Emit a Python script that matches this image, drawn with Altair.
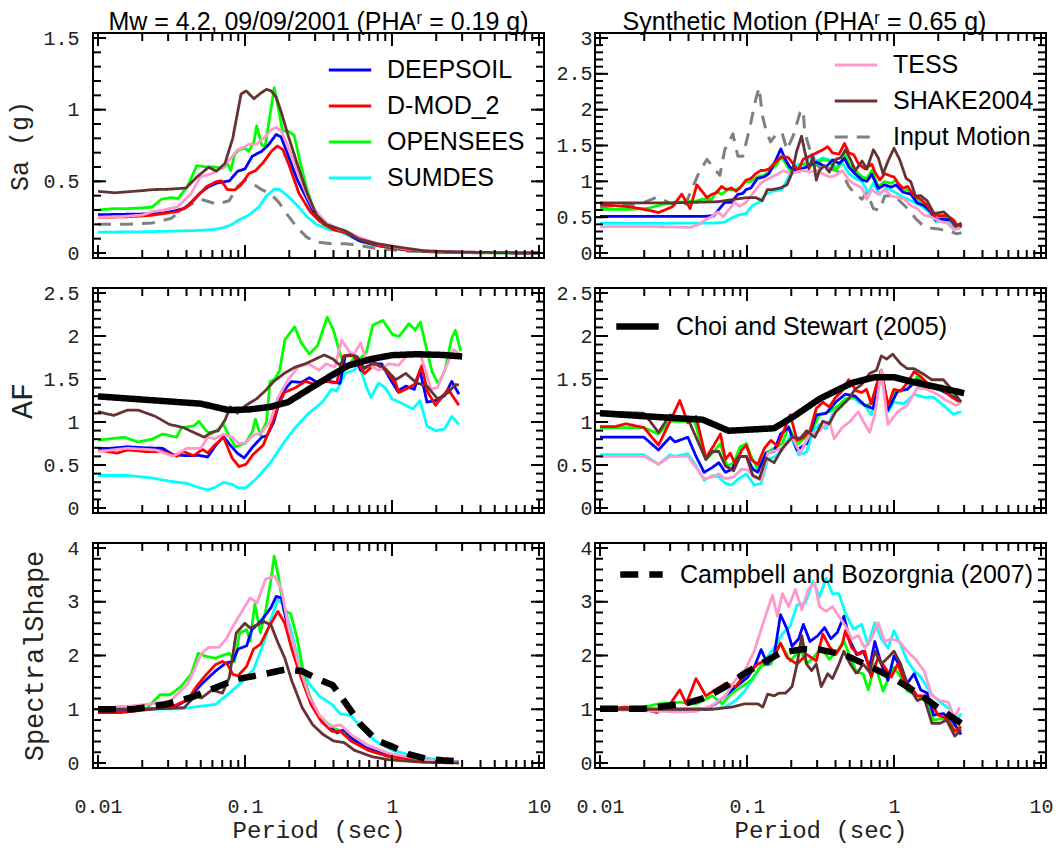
import altair as alt
import pandas as pd

SERIES = ["Input Motion", "SUMDES", "OPENSEES", "DEEPSOIL", "D-MOD_2", "TESS",
          "SHAKE2004", "Choi and Stewart (2005)", "Campbell and Bozorgnia (2007)"]
COLORS = ["#808080", "#00ffff", "#00ff00", "#0000ff", "#ff0000", "#ff99cc",
          "#663333", "#000000", "#000000"]
DASHES = [[13, 9], [1, 0], [1, 0], [1, 0], [1, 0], [1, 0], [1, 0], [1, 0], [18, 11]]
WIDTHS = [3, 2.8, 2.8, 2.8, 2.8, 2.8, 2.8, 6.5, 6.5]

SA_EQ = {
    "DEEPSOIL": ([0.01, 0.015, 0.02, 0.0233, 0.028, 0.032, 0.0386, 0.045, 0.0497, 0.056, 0.064, 0.0784, 0.089, 0.1, 0.112, 0.13, 0.144, 0.163, 0.176, 0.195, 0.227, 0.264, 0.292, 0.358, 0.416, 0.485, 0.594, 0.8, 1.2, 1.7, 2.5, 4, 6, 10],
                 [0.267, 0.27, 0.272, 0.275, 0.28, 0.29, 0.31, 0.37, 0.42, 0.46, 0.487, 0.504, 0.57, 0.587, 0.675, 0.71, 0.753, 0.827, 0.81, 0.69, 0.51, 0.376, 0.287, 0.198, 0.164, 0.142, 0.087, 0.053, 0.024, 0.012, 0.006, 0.003, 0.002, 0.001]),
    "D-MOD_2": ([0.01, 0.015, 0.02, 0.0233, 0.03, 0.035, 0.04, 0.045, 0.05, 0.055, 0.064, 0.069, 0.076, 0.085, 0.094, 0.106, 0.118, 0.133, 0.151, 0.166, 0.181, 0.2, 0.232, 0.278, 0.323, 0.396, 0.485, 0.594, 0.8, 1.2, 1.7, 2.5, 4, 10],
                [0.25, 0.252, 0.258, 0.264, 0.28, 0.29, 0.32, 0.375, 0.42, 0.464, 0.498, 0.504, 0.442, 0.44, 0.475, 0.553, 0.575, 0.631, 0.709, 0.747, 0.72, 0.61, 0.42, 0.287, 0.22, 0.164, 0.142, 0.098, 0.053, 0.024, 0.012, 0.006, 0.003, 0.001]),
    "TESS": ([0.01, 0.015, 0.02, 0.0233, 0.028, 0.035, 0.0427, 0.0497, 0.059, 0.071, 0.08, 0.089, 0.1, 0.106, 0.12, 0.137, 0.151, 0.163, 0.176, 0.195, 0.227, 0.264, 0.292, 0.358, 0.44, 0.485, 0.594, 0.8, 1.2, 1.7, 2.5, 4, 10],
             [0.25, 0.255, 0.265, 0.287, 0.3, 0.324, 0.41, 0.53, 0.553, 0.6, 0.66, 0.72, 0.74, 0.76, 0.76, 0.81, 0.86, 0.876, 0.853, 0.75, 0.575, 0.4, 0.31, 0.21, 0.164, 0.153, 0.11, 0.064, 0.03, 0.015, 0.008, 0.004, 0.001]),
    "OPENSEES": ([0.01, 0.013, 0.016, 0.02, 0.0233, 0.027, 0.0315, 0.035, 0.0406, 0.047, 0.055, 0.0625, 0.07, 0.0765, 0.08, 0.085, 0.091, 0.1, 0.106, 0.115, 0.12, 0.13, 0.137, 0.148, 0.158, 0.167, 0.18, 0.2, 0.216, 0.239, 0.264, 0.292, 0.34, 0.4, 0.485, 0.594, 0.8, 1.2, 1.7, 2.5, 4, 10],
                 [0.30, 0.31, 0.31, 0.315, 0.32, 0.375, 0.387, 0.38, 0.464, 0.61, 0.6, 0.6, 0.59, 0.62, 0.575, 0.687, 0.72, 0.73, 0.71, 0.776, 0.887, 0.753, 0.742, 0.964, 1.153, 1.03, 0.853, 0.847, 0.82, 0.62, 0.442, 0.31, 0.2, 0.165, 0.14, 0.09, 0.05, 0.022, 0.011, 0.005, 0.002, 0.001]),
    "SUMDES": ([0.01, 0.02, 0.03, 0.0386, 0.05, 0.061, 0.07, 0.08, 0.091, 0.106, 0.124, 0.14, 0.159, 0.172, 0.195, 0.227, 0.264, 0.307, 0.37, 0.44, 0.51, 0.625, 0.89, 1.3, 2, 3, 5, 10],
               [0.145, 0.148, 0.152, 0.155, 0.158, 0.164, 0.175, 0.195, 0.231, 0.264, 0.32, 0.398, 0.447, 0.442, 0.398, 0.331, 0.253, 0.198, 0.164, 0.153, 0.12, 0.076, 0.042, 0.02, 0.008, 0.004, 0.002, 0.001]),
    "SHAKE2004": ([0.01, 0.013, 0.02, 0.0233, 0.03, 0.0397, 0.047, 0.0565, 0.064, 0.073, 0.0825, 0.094, 0.102, 0.115, 0.127, 0.14, 0.151, 0.163, 0.176, 0.195, 0.227, 0.264, 0.307, 0.358, 0.416, 0.485, 0.594, 0.8, 1.09, 1.66, 2.8, 5, 10],
                  [0.43, 0.42, 0.435, 0.442, 0.445, 0.453, 0.53, 0.598, 0.571, 0.624, 0.8, 1.109, 1.131, 1.076, 1.113, 1.142, 1.131, 1.087, 0.987, 0.831, 0.62, 0.42, 0.264, 0.198, 0.176, 0.153, 0.098, 0.064, 0.042, 0.015, 0.007, 0.003, 0.0]),
    "Input Motion": ([0.01, 0.016, 0.0233, 0.0315, 0.038, 0.05, 0.064, 0.078, 0.089, 0.1, 0.112, 0.13, 0.151, 0.17, 0.195, 0.227, 0.264, 0.307, 0.396, 0.485, 0.594, 0.8, 1.2, 2, 3, 5, 10],
                     [0.2, 0.2, 0.209, 0.242, 0.31, 0.375, 0.342, 0.364, 0.464, 0.509, 0.487, 0.442, 0.409, 0.353, 0.264, 0.176, 0.109, 0.076, 0.064, 0.064, 0.053, 0.031, 0.015, 0.006, 0.003, 0.001, 0.0]),
}

SA_SYN = {
    "DEEPSOIL": ([0.01, 0.02, 0.03, 0.04, 0.05, 0.0596, 0.0637, 0.0706, 0.0782, 0.0866, 0.0936, 0.0985, 0.1063, 0.1178, 0.1305, 0.141, 0.156, 0.170, 0.182, 0.196, 0.2176, 0.254, 0.296, 0.345, 0.382, 0.423, 0.461, 0.493, 0.547, 0.606, 0.654, 0.706, 0.781, 0.865, 0.959, 1.036, 1.148, 1.30, 1.44, 1.60, 1.77, 1.92, 2.18, 2.42, 2.68, 2.88],
                 [0.51, 0.51, 0.51, 0.51, 0.51, 0.52, 0.596, 0.707, 0.707, 0.818, 0.831, 0.884, 0.907, 1.04, 1.062, 1.107, 1.284, 1.453, 1.307, 1.196, 1.151, 1.2, 1.27, 1.2, 1.3, 1.25, 1.32, 1.2, 1.1, 1.02, 1.0, 1.1, 0.9, 0.95, 0.92, 0.95, 0.85, 0.82, 0.7, 0.66, 0.58, 0.46, 0.47, 0.46, 0.36, 0.4]),
    "D-MOD_2": ([0.01, 0.016, 0.021, 0.025, 0.031, 0.036, 0.041, 0.0456, 0.0494, 0.0534, 0.0576, 0.062, 0.0671, 0.0724, 0.0782, 0.0845, 0.0912, 0.0985, 0.1063, 0.1148, 0.124, 0.1305, 0.141, 0.152, 0.164, 0.177, 0.1914, 0.2068, 0.223, 0.241, 0.267, 0.296, 0.328, 0.354, 0.382, 0.423, 0.461, 0.493, 0.532, 0.575, 0.637, 0.706, 0.742, 0.801, 0.865, 0.959, 1.0, 1.063, 1.148, 1.24, 1.37, 1.52, 1.68, 1.87, 2.07, 2.30, 2.54, 2.75, 2.88],
                [0.676, 0.644, 0.6, 0.564, 0.644, 0.822, 0.62, 0.951, 0.862, 0.773, 0.818, 0.84, 0.929, 0.884, 0.907, 0.862, 0.929, 1.018, 1.04, 1.107, 1.151, 1.151, 1.173, 1.24, 1.307, 1.351, 1.329, 1.24, 1.151, 1.307, 1.351, 1.396, 1.44, 1.484, 1.396, 1.38, 1.529, 1.396, 1.373, 1.24, 1.173, 1.24, 1.129, 1.018, 1.107, 1.07, 1.062, 0.973, 0.907, 0.929, 0.796, 0.751, 0.662, 0.529, 0.52, 0.52, 0.462, 0.351, 0.396]),
    "OPENSEES": ([0.01, 0.016, 0.021, 0.027, 0.035, 0.045, 0.0494, 0.0576, 0.062, 0.0671, 0.0743, 0.0823, 0.0889, 0.0985, 0.1063, 0.1178, 0.1305, 0.1446, 0.16, 0.170, 0.182, 0.196, 0.2176, 0.241, 0.267, 0.296, 0.328, 0.363, 0.402, 0.434, 0.461, 0.493, 0.547, 0.606, 0.654, 0.706, 0.781, 0.865, 0.959, 1.036, 1.148, 1.24, 1.40, 1.55, 1.72, 1.92, 2.18, 2.42, 2.68, 2.88],
                 [0.609, 0.609, 0.622, 0.68, 0.711, 0.724, 0.75, 0.75, 0.862, 0.818, 0.884, 0.88, 0.907, 0.996, 0.996, 1.062, 1.084, 1.151, 1.24, 1.351, 1.262, 1.151, 1.173, 1.24, 1.218, 1.24, 1.307, 1.284, 1.151, 1.25, 1.373, 1.24, 1.151, 1.062, 1.04, 1.151, 0.929, 0.996, 0.973, 1.018, 0.884, 0.884, 0.773, 0.707, 0.662, 0.484, 0.507, 0.484, 0.351, 0.396]),
    "SUMDES": ([0.01, 0.02, 0.03, 0.04, 0.05, 0.06, 0.071, 0.0743, 0.0866, 0.0985, 0.109, 0.121, 0.134, 0.148, 0.16, 0.1728, 0.187, 0.2016, 0.223, 0.247, 0.274, 0.296, 0.328, 0.363, 0.402, 0.445, 0.493, 0.547, 0.606, 0.67, 0.724, 0.801, 0.888, 0.984, 1.119, 1.24, 1.37, 1.52, 1.72, 1.92, 2.3, 2.68, 2.88],
               [0.413, 0.413, 0.415, 0.418, 0.418, 0.418, 0.43, 0.462, 0.529, 0.551, 0.662, 0.707, 0.818, 0.862, 0.87, 0.884, 1.018, 1.151, 1.24, 1.24, 1.373, 1.284, 1.329, 1.3, 1.196, 1.262, 1.107, 1.04, 0.996, 0.84, 0.973, 0.818, 0.907, 0.862, 0.796, 0.751, 0.707, 0.662, 0.573, 0.44, 0.44, 0.329, 0.373]),
    "TESS": ([0.01, 0.02, 0.03, 0.041, 0.047, 0.052, 0.0576, 0.0637, 0.0689, 0.0762, 0.0823, 0.0889, 0.0985, 0.1063, 0.1148, 0.124, 0.134, 0.148, 0.164, 0.177, 0.196, 0.2176, 0.241, 0.267, 0.296, 0.328, 0.363, 0.402, 0.445, 0.493, 0.547, 0.606, 0.654, 0.706, 0.781, 0.865, 0.959, 1.063, 1.18, 1.30, 1.44, 1.60, 1.77, 2.07, 2.30, 2.54, 2.8],
             [0.369, 0.369, 0.365, 0.356, 0.396, 0.462, 0.507, 0.573, 0.507, 0.618, 0.707, 0.65, 0.707, 0.796, 0.884, 0.973, 1.018, 1.062, 1.107, 1.151, 1.107, 1.129, 1.151, 1.129, 1.151, 1.107, 1.062, 1.08, 1.151, 1.018, 0.951, 0.907, 0.751, 0.884, 0.818, 0.884, 0.796, 0.773, 0.751, 0.662, 0.618, 0.529, 0.507, 0.44, 0.418, 0.329, 0.351]),
    "SHAKE2004": ([0.01, 0.02, 0.03, 0.04, 0.05, 0.064, 0.0823, 0.101, 0.1148, 0.127, 0.1374, 0.148, 0.1684, 0.187, 0.2016, 0.2176, 0.235, 0.247, 0.264, 0.281, 0.296, 0.311, 0.336, 0.363, 0.402, 0.434, 0.468, 0.505, 0.547, 0.606, 0.654, 0.724, 0.781, 0.843, 0.911, 1.0, 1.091, 1.21, 1.30, 1.40, 1.52, 1.68, 1.87, 2.18, 2.36, 2.61, 2.88],
                  [0.698, 0.70, 0.70, 0.705, 0.71, 0.716, 0.751, 0.773, 0.773, 0.729, 0.884, 0.884, 0.907, 0.951, 1.107, 1.418, 1.631, 1.418, 1.173, 1.351, 1.018, 1.151, 1.218, 1.129, 1.307, 1.329, 1.44, 1.307, 1.151, 1.284, 1.173, 1.44, 1.329, 1.107, 1.284, 1.462, 1.307, 1.04, 0.996, 0.796, 0.8, 0.729, 0.551, 0.573, 0.507, 0.373, 0.418]),
    "Input Motion": ([0.01, 0.0146, 0.019, 0.0244, 0.029, 0.035, 0.0382, 0.0468, 0.0534, 0.0587, 0.0654, 0.0706, 0.0802, 0.0866, 0.0936, 0.104, 0.1148, 0.121, 0.127, 0.134, 0.1446, 0.156, 0.1728, 0.187, 0.2068, 0.229, 0.241, 0.247, 0.274, 0.296, 0.328, 0.363, 0.402, 0.445, 0.493, 0.547, 0.606, 0.654, 0.724, 0.801, 0.865, 0.984, 1.063, 1.24, 1.40, 1.55, 1.72, 2.07, 2.42, 2.68, 2.88],
                     [0.644, 0.667, 0.689, 0.778, 0.711, 0.644, 0.684, 1.107, 1.307, 1.2, 1.084, 1.44, 1.662, 1.351, 1.35, 1.729, 2.151, 2.307, 1.929, 1.729, 1.551, 1.64, 1.684, 1.44, 1.64, 1.951, 1.996, 1.684, 1.373, 1.24, 1.151, 1.18, 1.15, 1.107, 0.929, 0.818, 0.751, 0.85, 0.618, 0.6, 0.796, 0.8, 0.751, 0.618, 0.484, 0.396, 0.351, 0.33, 0.3, 0.267, 0.284]),
}

AF_EQ = {
    "Choi and Stewart (2005)": ([0.01, 0.05, 0.0774, 0.107, 0.149, 0.196, 0.271, 0.376, 0.508, 0.72, 1.0, 1.47, 2.2, 3.0],
                                [1.298, 1.213, 1.139, 1.146, 1.176, 1.231, 1.38, 1.528, 1.658, 1.732, 1.777, 1.788, 1.78, 1.762]),
    "DEEPSOIL": ([0.01, 0.0121, 0.0159, 0.0209, 0.0275, 0.0324, 0.0402, 0.0486, 0.0558, 0.0622, 0.0714, 0.0795, 0.0886, 0.0988, 0.113, 0.13, 0.1411, 0.157, 0.177, 0.207, 0.241, 0.274, 0.311, 0.363, 0.443, 0.481, 0.55, 0.612, 0.72, 0.85, 0.95, 1.09, 1.24, 1.42, 1.55, 1.73, 1.98, 2.28, 2.55, 2.85],
                 [0.694, 0.694, 0.712, 0.7, 0.694, 0.619, 0.608, 0.612, 0.593, 0.712, 0.831, 0.73, 0.638, 0.582, 0.712, 0.823, 0.842, 1.0, 1.33, 1.47, 1.46, 1.515, 1.459, 1.478, 1.45, 1.77, 1.788, 1.6, 1.677, 1.677, 1.528, 1.361, 1.417, 1.38, 1.6, 1.231, 1.25, 1.306, 1.472, 1.324]),
    "D-MOD_2": ([0.01, 0.0135, 0.0159, 0.0209, 0.0275, 0.0342, 0.0381, 0.0448, 0.0514, 0.0558, 0.0622, 0.0714, 0.0817, 0.091, 0.1015, 0.113, 0.133, 0.149, 0.166, 0.185, 0.22, 0.257, 0.302, 0.356, 0.42, 0.468, 0.55, 0.65, 0.77, 0.9, 1.06, 1.11, 1.24, 1.42, 1.60, 1.73, 1.98, 2.41, 2.85],
                [0.675, 0.638, 0.675, 0.657, 0.657, 0.601, 0.657, 0.608, 0.682, 0.64, 0.731, 0.823, 0.582, 0.482, 0.508, 0.619, 0.731, 0.935, 1.157, 1.343, 1.398, 1.472, 1.435, 1.472, 1.454, 1.769, 1.769, 1.565, 1.677, 1.602, 1.454, 1.343, 1.38, 1.435, 1.658, 1.361, 1.194, 1.38, 1.194]),
    "TESS": ([0.01, 0.0159, 0.0246, 0.0324, 0.0402, 0.05, 0.0558, 0.0622, 0.0714, 0.0817, 0.091, 0.1015, 0.113, 0.13, 0.149, 0.166, 0.196, 0.23, 0.271, 0.319, 0.356, 0.408, 0.455, 0.508, 0.55, 0.612, 0.684, 0.81, 0.95, 1.11, 1.31, 1.55, 1.84, 2.04, 2.28, 2.62, 2.93],
             [0.657, 0.694, 0.675, 0.601, 0.694, 0.694, 0.823, 0.805, 0.86, 0.823, 0.749, 0.76, 0.842, 0.879, 1.009, 1.269, 1.491, 1.639, 1.677, 1.602, 1.677, 1.639, 1.955, 1.825, 1.788, 1.918, 1.677, 1.6, 1.677, 1.66, 1.806, 1.806, 1.38, 1.4, 1.6, 1.843, 1.78]),
    "SHAKE2004": ([0.01, 0.0128, 0.0159, 0.0187, 0.0246, 0.0306, 0.0381, 0.0448, 0.0528, 0.0589, 0.0657, 0.0733, 0.0795, 0.0886, 0.1015, 0.1197, 0.137, 0.157, 0.185, 0.22, 0.257, 0.302, 0.346, 0.397, 0.443, 0.481, 0.521, 0.58, 0.65, 0.76, 0.9, 1.06, 1.24, 1.47, 1.73, 2.04, 2.41, 2.70, 2.85],
                  [1.12, 1.076, 1.139, 1.139, 1.065, 0.972, 0.935, 0.879, 0.823, 0.879, 0.898, 1.027, 1.176, 1.102, 1.194, 1.269, 1.361, 1.472, 1.565, 1.639, 1.677, 1.732, 1.78, 1.732, 1.658, 1.769, 1.78, 1.76, 1.621, 1.695, 1.621, 1.491, 1.565, 1.454, 1.417, 1.269, 1.343, 1.435, 1.43]),
    "OPENSEES": ([0.01, 0.0121, 0.0151, 0.0187, 0.0233, 0.0275, 0.0342, 0.0371, 0.0448, 0.0486, 0.0543, 0.0589, 0.0657, 0.0714, 0.0774, 0.0862, 0.101, 0.112, 0.118, 0.127, 0.14, 0.148, 0.16, 0.172, 0.187, 0.218, 0.241, 0.274, 0.311, 0.363, 0.40, 0.446, 0.494, 0.547, 0.605, 0.67, 0.74, 0.866, 1.01, 1.12, 1.30, 1.44, 1.56, 1.68, 1.87, 2.07, 2.29, 2.55, 2.70, 2.93],
                 [0.786, 0.805, 0.823, 0.768, 0.8, 0.86, 0.823, 0.935, 0.953, 1.009, 0.9, 0.86, 0.916, 0.972, 0.85, 0.712, 0.756, 0.885, 1.033, 0.848, 1.0, 1.47, 1.5, 1.6, 1.959, 2.107, 1.922, 1.793, 1.885, 2.219, 2.07, 1.774, 1.626, 1.737, 1.737, 1.811, 2.126, 2.181, 2.015, 1.996, 2.144, 2.07, 2.163, 1.922, 1.589, 1.44, 1.6, 1.978, 2.066, 1.825]),
    "SUMDES": ([0.01, 0.0159, 0.0233, 0.0306, 0.0402, 0.05, 0.0558, 0.0622, 0.0714, 0.0817, 0.091, 0.1015, 0.1197, 0.149, 0.185, 0.22, 0.271, 0.337, 0.387, 0.42, 0.481, 0.55, 0.596, 0.666, 0.72, 0.81, 0.9, 1.0, 1.18, 1.39, 1.55, 1.73, 1.98, 2.28, 2.55, 2.85],
               [0.378, 0.378, 0.349, 0.312, 0.286, 0.23, 0.211, 0.237, 0.297, 0.275, 0.23, 0.237, 0.341, 0.527, 0.768, 0.935, 1.102, 1.231, 1.38, 1.36, 1.565, 1.602, 1.677, 1.417, 1.287, 1.454, 1.398, 1.269, 1.213, 1.15, 1.25, 0.953, 0.898, 0.92, 1.065, 0.972]),
}

AF_SYN = {
    "Choi and Stewart (2005)": ([0.01, 0.021, 0.05, 0.075, 0.153, 0.208, 0.3115, 0.517, 0.74, 1.0, 1.37, 2.06, 3.0],
                                [1.102, 1.065, 1.027, 0.898, 0.927, 1.065, 1.269, 1.454, 1.521, 1.521, 1.461, 1.398, 1.335]),
    "D-MOD_2": ([0.01, 0.0126, 0.015, 0.0199, 0.025, 0.030, 0.0349, 0.0396, 0.045, 0.0525, 0.0596, 0.066, 0.0713, 0.0769, 0.0832, 0.0921, 0.099, 0.1067, 0.1184, 0.1312, 0.1453, 0.161, 0.178, 0.197, 0.219, 0.242, 0.268, 0.296, 0.328, 0.363, 0.401, 0.444, 0.491, 0.557, 0.602, 0.65, 0.70, 0.76, 0.82, 0.91, 1.0, 1.11, 1.23, 1.37, 1.52, 1.68, 1.86, 2.06, 2.40, 2.79],
                [0.946, 0.946, 0.979, 0.935, 0.731, 1.009, 1.25, 0.99, 1.065, 0.582, 0.731, 0.86, 0.564, 0.638, 0.508, 0.675, 0.731, 0.564, 0.508, 0.694, 0.786, 0.72, 0.898, 1.083, 0.786, 0.82, 0.898, 1.157, 1.231, 1.175, 1.287, 1.361, 1.491, 1.361, 1.343, 1.38, 1.213, 1.43, 1.602, 1.194, 1.38, 1.36, 1.454, 1.584, 1.528, 1.454, 1.398, 1.41, 1.306, 1.231]),
    "OPENSEES": ([0.01, 0.0199, 0.025, 0.030, 0.0439, 0.0525, 0.0596, 0.066, 0.073, 0.081, 0.0898, 0.099, 0.1067, 0.1184, 0.1346, 0.1529, 0.174, 0.192, 0.219, 0.268, 0.3115, 0.363, 0.422, 0.467, 0.544, 0.633, 0.70, 0.82, 0.91, 1.0, 1.23, 1.44, 1.68, 1.96, 2.40, 2.86],
                 [0.935, 0.935, 0.86, 1.009, 1.009, 0.564, 0.657, 0.749, 0.49, 0.52, 0.712, 0.749, 0.60, 0.453, 0.638, 0.694, 0.749, 0.95, 0.74, 0.86, 1.083, 1.12, 1.194, 1.269, 1.287, 1.194, 1.21, 1.602, 1.157, 1.343, 1.38, 1.528, 1.43, 1.38, 1.33, 1.231]),
    "DEEPSOIL": ([0.01, 0.0199, 0.025, 0.030, 0.0323, 0.0396, 0.045, 0.0511, 0.0581, 0.0643, 0.0713, 0.0789, 0.0875, 0.099, 0.1095, 0.1184, 0.1346, 0.1529, 0.169, 0.192, 0.219, 0.2545, 0.296, 0.345, 0.401, 0.467, 0.544, 0.633, 0.72, 0.82, 0.91, 1.06, 1.23, 1.44, 1.68, 2.06, 2.86],
                 [0.823, 0.823, 0.675, 0.823, 0.768, 0.823, 0.601, 0.415, 0.471, 0.527, 0.415, 0.45, 0.601, 0.601, 0.453, 0.415, 0.64, 0.657, 0.86, 0.935, 0.675, 0.749, 1.083, 1.1, 1.231, 1.324, 1.3, 1.194, 1.157, 1.602, 1.139, 1.361, 1.38, 1.491, 1.435, 1.38, 1.231]),
    "SUMDES": ([0.01, 0.0199, 0.025, 0.030, 0.0323, 0.0396, 0.045, 0.0511, 0.0581, 0.0643, 0.0713, 0.0789, 0.0875, 0.099, 0.112, 0.1247, 0.1382, 0.157, 0.174, 0.197, 0.2245, 0.2545, 0.2815, 0.3115, 0.345, 0.3815, 0.422, 0.467, 0.517, 0.572, 0.633, 0.70, 0.82, 0.91, 1.0, 1.17, 1.37, 1.60, 1.86, 2.17, 2.52, 2.86],
               [0.619, 0.619, 0.508, 0.619, 0.6, 0.631, 0.49, 0.323, 0.378, 0.36, 0.286, 0.267, 0.341, 0.396, 0.267, 0.285, 0.564, 0.601, 0.675, 0.842, 0.619, 0.65, 0.898, 0.972, 0.92, 1.083, 1.157, 1.231, 1.306, 1.23, 1.194, 1.083, 1.528, 1.12, 1.231, 1.213, 1.324, 1.287, 1.287, 1.194, 1.09, 1.12]),
    "TESS": ([0.01, 0.0199, 0.025, 0.030, 0.0396, 0.045, 0.0511, 0.0581, 0.0643, 0.0713, 0.081, 0.0921, 0.1015, 0.112, 0.1247, 0.1382, 0.161, 0.178, 0.2025, 0.23, 0.268, 0.3115, 0.363, 0.392, 0.444, 0.504, 0.572, 0.617, 0.683, 0.74, 0.82, 0.91, 1.06, 1.23, 1.44, 1.68, 1.96, 2.28, 2.65, 2.86],
             [0.601, 0.601, 0.508, 0.601, 0.601, 0.471, 0.341, 0.36, 0.397, 0.341, 0.36, 0.453, 0.44, 0.36, 0.323, 0.638, 0.675, 0.70, 0.823, 0.638, 0.86, 0.898, 1.009, 0.805, 0.935, 1.009, 1.12, 1.009, 0.879, 1.083, 1.602, 0.972, 1.12, 1.194, 1.398, 1.38, 1.324, 1.25, 1.194, 1.23]),
    "SHAKE2004": ([0.01, 0.0199, 0.025, 0.030, 0.0349, 0.0396, 0.045, 0.0525, 0.0581, 0.0643, 0.0713, 0.081, 0.0898, 0.099, 0.1095, 0.1215, 0.1346, 0.1529, 0.174, 0.2025, 0.23, 0.2545, 0.289, 0.328, 0.363, 0.401, 0.444, 0.491, 0.544, 0.602, 0.683, 0.76, 0.82, 0.89, 0.98, 1.11, 1.23, 1.37, 1.56, 1.81, 2.17, 2.46, 2.86],
                  [1.12, 1.102, 0.879, 1.083, 1.027, 1.04, 0.823, 0.564, 0.657, 0.657, 0.49, 0.434, 0.601, 0.601, 0.378, 0.341, 0.582, 0.527, 0.694, 0.823, 0.81, 0.898, 0.823, 1.009, 0.98, 1.12, 1.194, 1.269, 1.38, 1.435, 1.565, 1.602, 1.769, 1.732, 1.788, 1.677, 1.621, 1.62, 1.565, 1.491, 1.491, 1.38, 1.231]),
}

SS_EQ = {
    "Campbell and Bozorgnia (2007)": ([0.01, 0.0172, 0.0287, 0.0431, 0.0616, 0.088, 0.1324, 0.189, 0.244, 0.315, 0.396, 0.473, 0.61, 0.787, 1.015, 1.31, 1.69, 2.2, 2.8],
                                      [1.0, 1.0, 1.09, 1.22, 1.39, 1.56, 1.65, 1.74, 1.71, 1.56, 1.446, 1.15, 0.72, 0.42, 0.3, 0.16, 0.083, 0.05, 0.03]),
    "OPENSEES": ([0.01, 0.0145, 0.0212, 0.0264, 0.031, 0.0366, 0.043, 0.048, 0.055, 0.063, 0.0702, 0.0782, 0.0849, 0.092, 0.1026, 0.1083, 0.1166, 0.1274, 0.139, 0.15, 0.158, 0.169, 0.184, 0.204, 0.226, 0.257, 0.299, 0.349, 0.406, 0.447, 0.5265, 0.691, 0.958, 1.66, 2.85],
                 [1.0, 1.05, 1.0, 1.27, 1.27, 1.42, 1.65, 2.04, 1.98, 1.95, 2.0, 2.04, 1.89, 2.42, 2.48, 2.27, 2.96, 2.42, 2.87, 3.4, 3.85, 3.46, 2.84, 2.78, 2.33, 1.5, 0.97, 0.78, 0.64, 0.6, 0.442, 0.236, 0.118, 0.047, 0.0]),
    "DEEPSOIL": ([0.01, 0.0212, 0.0328, 0.0408, 0.0507, 0.063, 0.0741, 0.0826, 0.0896, 0.1026, 0.1113, 0.1274, 0.1502, 0.163, 0.1768, 0.197, 0.232, 0.2735, 0.322, 0.38, 0.4235, 0.472, 0.5265, 0.6545, 0.86, 1.25, 2.16, 2.85],
                 [1.0, 1.0, 1.03, 1.18, 1.47, 1.71, 1.86, 1.89, 2.12, 2.18, 2.48, 2.63, 2.89, 3.1, 3.07, 2.48, 1.77, 1.24, 0.855, 0.65, 0.56, 0.62, 0.47, 0.295, 0.177, 0.088, 0.03, 0.02]),
    "D-MOD_2": ([0.01, 0.0145, 0.0212, 0.0328, 0.0408, 0.0467, 0.0535, 0.063, 0.0702, 0.0762, 0.0826, 0.0896, 0.1026, 0.1143, 0.1274, 0.146, 0.1674, 0.1866, 0.208, 0.2385, 0.281, 0.331, 0.3905, 0.447, 0.5265, 0.691, 0.958, 1.66, 2.85],
                [0.94, 0.94, 0.99, 1.06, 1.18, 1.42, 1.62, 1.83, 1.89, 1.83, 1.65, 1.62, 1.8, 2.12, 2.21, 2.54, 2.82, 2.6, 2.12, 1.62, 1.09, 0.77, 0.59, 0.59, 0.41, 0.236, 0.118, 0.047, 0.01]),
    "TESS": ([0.01, 0.0212, 0.031, 0.0408, 0.0507, 0.0565, 0.0665, 0.0741, 0.0826, 0.0972, 0.1083, 0.1207, 0.138, 0.1586, 0.1768, 0.197, 0.232, 0.2735, 0.322, 0.38, 0.447, 0.5265, 0.691, 0.958, 1.66, 2.85],
             [1.0, 1.09, 1.15, 1.47, 2.04, 2.15, 2.15, 2.3, 2.54, 2.86, 3.07, 2.98, 3.42, 3.48, 3.24, 2.54, 1.83, 1.24, 0.885, 0.68, 0.71, 0.53, 0.324, 0.177, 0.06, 0.02]),
    "SUMDES": ([0.01, 0.0212, 0.0366, 0.0507, 0.063, 0.0782, 0.0972, 0.1143, 0.1345, 0.154, 0.1674, 0.1817, 0.2025, 0.232, 0.2735, 0.322, 0.3905, 0.447, 0.5265, 0.62, 0.77, 1.01, 1.33, 1.94, 2.85],
               [1.0, 1.0, 1.01, 1.06, 1.09, 1.3, 1.53, 1.74, 2.24, 2.77, 3.04, 2.95, 2.54, 1.89, 1.47, 1.24, 1.09, 0.91, 0.885, 0.65, 0.41, 0.236, 0.147, 0.07, 0.02]),
    "SHAKE2004": ([0.01, 0.0212, 0.0386, 0.0454, 0.0507, 0.0596, 0.0702, 0.0782, 0.0872, 0.0998, 0.1083, 0.1207, 0.1345, 0.1502, 0.1674, 0.1866, 0.208, 0.245, 0.289, 0.34, 0.401, 0.472, 0.556, 0.73, 0.958, 1.66, 2.85],
                  [1.0, 1.0, 1.03, 1.24, 1.21, 1.36, 1.3, 1.59, 2.42, 2.6, 2.51, 2.57, 2.63, 2.57, 2.24, 1.95, 1.53, 1.03, 0.71, 0.53, 0.41, 0.38, 0.236, 0.118, 0.059, 0.012, 0.0]),
}

SS_SYN = {
    "Campbell and Bozorgnia (2007)": ([0.01, 0.0199, 0.030, 0.0396, 0.0525, 0.0713, 0.0965, 0.1312, 0.169, 0.242, 0.3115, 0.401, 0.491, 0.633, 0.82, 1.0, 1.23, 1.60, 2.06, 2.86],
                                      [1.01, 1.01, 1.07, 1.12, 1.22, 1.42, 1.67, 1.88, 2.05, 2.12, 2.11, 2.05, 1.98, 1.84, 1.69, 1.57, 1.42, 1.22, 1.0, 0.74]),
    "D-MOD_2": ([0.01, 0.0147, 0.0199, 0.0244, 0.030, 0.0349, 0.0386, 0.045, 0.0525, 0.061, 0.0713, 0.0832, 0.0965, 0.1067, 0.1184, 0.1312, 0.1529, 0.169, 0.1874, 0.219, 0.2545, 0.296, 0.328, 0.363, 0.401, 0.444, 0.467, 0.517, 0.572, 0.633, 0.70, 0.78, 0.866, 0.96, 1.06, 1.17, 1.3, 1.44, 1.6, 1.77, 2.0, 2.28, 2.59, 2.86],
                [0.98, 1.04, 1.0, 0.94, 1.1, 1.36, 1.1, 1.57, 1.25, 1.36, 1.48, 1.42, 1.63, 1.72, 1.84, 1.9, 1.99, 2.23, 1.96, 1.84, 2.02, 1.9, 2.4, 2.17, 2.02, 2.2, 2.46, 2.14, 2.02, 2.08, 1.6, 1.96, 1.78, 1.6, 1.84, 1.54, 1.42, 1.25, 1.25, 1.13, 0.89, 0.83, 0.59, 0.68]),
    "DEEPSOIL": ([0.01, 0.0525, 0.061, 0.0713, 0.0789, 0.0898, 0.1015, 0.112, 0.1247, 0.1382, 0.1529, 0.169, 0.1874, 0.2025, 0.2245, 0.242, 0.268, 0.3035, 0.337, 0.372, 0.412, 0.456, 0.504, 0.557, 0.617, 0.683, 0.74, 0.82, 0.91, 1.0, 1.11, 1.23, 1.37, 1.52, 1.68, 1.86, 2.17, 2.52, 2.86],
                 [1.0, 1.0, 1.1, 1.25, 1.36, 1.48, 1.6, 1.78, 2.11, 1.84, 1.99, 2.76, 2.49, 2.17, 2.31, 2.58, 2.26, 2.37, 2.52, 2.31, 2.43, 2.73, 2.26, 2.02, 2.08, 1.78, 2.26, 1.84, 1.54, 1.99, 1.78, 1.48, 1.66, 1.36, 1.3, 0.89, 0.92, 0.77, 0.53]),
    "OPENSEES": ([0.01, 0.0199, 0.025, 0.0349, 0.045, 0.0581, 0.0678, 0.0789, 0.0921, 0.1067, 0.1247, 0.1453, 0.169, 0.197, 0.23, 0.2545, 0.289, 0.32, 0.363, 0.412, 0.456, 0.504, 0.557, 0.617, 0.667, 0.74, 0.843, 0.935, 1.0, 1.11, 1.23, 1.44, 1.68, 1.86, 2.17, 2.52, 2.86],
                 [1.0, 1.04, 1.1, 1.13, 1.1, 1.25, 1.1, 1.3, 1.42, 1.54, 1.81, 1.84, 2.23, 1.9, 2.11, 1.84, 1.99, 2.14, 1.93, 2.08, 2.28, 1.96, 1.69, 1.66, 1.36, 1.84, 1.34, 1.63, 1.78, 1.6, 1.34, 1.25, 1.13, 0.8, 0.83, 0.71, 0.62]),
    "SUMDES": ([0.01, 0.0581, 0.0713, 0.0832, 0.0965, 0.112, 0.1312, 0.1529, 0.174, 0.197, 0.219, 0.2485, 0.2815, 0.3115, 0.345, 0.3815, 0.422, 0.467, 0.53, 0.602, 0.667, 0.74, 0.82, 0.91, 1.0, 1.11, 1.23, 1.37, 1.52, 1.77, 2.06, 2.40, 2.65, 2.86],
               [1.0, 1.0, 1.04, 1.16, 1.34, 1.6, 1.9, 2.14, 2.4, 2.55, 2.94, 2.97, 3.38, 3.09, 3.44, 3.15, 3.15, 2.79, 2.49, 2.58, 2.2, 2.61, 2.31, 2.14, 2.46, 2.2, 1.9, 1.72, 1.6, 1.3, 1.13, 1.01, 0.77, 0.92]),
    "TESS": ([0.01, 0.0349, 0.045, 0.0581, 0.0713, 0.0832, 0.0965, 0.112, 0.1312, 0.149, 0.161, 0.174, 0.192, 0.2135, 0.236, 0.261, 0.289, 0.3115, 0.345, 0.3815, 0.422, 0.467, 0.517, 0.572, 0.633, 0.70, 0.78, 0.866, 0.96, 1.09, 1.23, 1.4, 1.6, 1.81, 2.06, 2.34, 2.59, 2.79],
             [1.0, 0.95, 0.96, 1.07, 1.25, 1.54, 1.72, 2.08, 2.67, 3.12, 2.73, 3.15, 2.91, 3.23, 2.85, 3.23, 3.35, 2.91, 2.82, 2.91, 2.73, 2.55, 2.31, 2.37, 2.14, 2.31, 2.61, 2.26, 2.31, 2.26, 2.08, 1.93, 1.72, 1.25, 1.16, 1.13, 0.83, 1.04]),
    "SHAKE2004": ([0.01, 0.0581, 0.0789, 0.0965, 0.1184, 0.128, 0.1382, 0.1529, 0.165, 0.183, 0.2025, 0.219, 0.236, 0.2545, 0.275, 0.296, 0.32, 0.354, 0.3815, 0.422, 0.456, 0.504, 0.557, 0.617, 0.683, 0.74, 0.82, 0.91, 1.0, 1.11, 1.23, 1.44, 1.6, 1.81, 2.06, 2.28, 2.59, 2.86],
                  [1.0, 1.0, 1.04, 1.1, 1.1, 1.04, 1.28, 1.25, 1.3, 1.3, 1.42, 1.84, 2.37, 1.84, 1.72, 1.84, 1.42, 1.66, 1.57, 1.84, 2.08, 1.84, 1.66, 1.84, 1.69, 2.08, 1.84, 1.96, 2.08, 1.84, 1.48, 1.16, 1.22, 0.74, 0.74, 0.8, 0.5, 0.62]),
}

X_MAJOR = [0.01, 0.1, 1, 10]
X_MINOR = [m * d for d in (0.01, 0.1, 1) for m in range(2, 10)]

MONO = "Liberation Mono"
SANS = "Liberation Sans"
W, H = 451, 225
MAJ, MIN = 13, 8


def to_frame(data):
    rows = []
    for name in SERIES:
        if name in data:
            periods, values = data[name]
            for k, (t, v) in enumerate(zip(periods, values)):
                rows.append({"period": t, "value": v, "series": name, "k": k})
    return pd.DataFrame(rows)


def tick_frames(y_major, y_minor):
    """Tick positions (data space) for the four framed sides; lengths in pixels."""
    xt = [{"period": t, "side": s, "len": ln}
          for vals, ln in ((X_MAJOR, MAJ), (X_MINOR, MIN))
          for t in vals for s in ("bottom", "top")]
    yt = [{"value": v, "side": s, "len": ln}
          for vals, ln in ((y_major, MAJ), (y_minor, MIN))
          for v in vals for s in ("left", "right")]
    return pd.DataFrame(xt), pd.DataFrame(yt)


def label_axis(orient, values, pad, **kw):
    return alt.Axis(orient=orient, values=values, ticks=False, tickSize=0,
                    labelPadding=pad, domain=False, grid=False, labelFlush=False,
                    labelOverlap=False, format="~g", labelFont=MONO,
                    labelFontSize=20, labelColor="#222", **kw)


def panel(data, ydom, ystep_major, ystep_minor, *, xlabels, ytitle, ytitle_size,
          ytitle_pad, ylab_pad, legend_names=None, legend_xy=(0, 0), title=None,
          title_dx=0):
    n_maj = int(round(ydom[1] / ystep_major))
    n_min = int(round(ydom[1] / ystep_minor))
    y_major = [round(i * ystep_major, 4) for i in range(n_maj + 1)]
    y_minor = [round(i * ystep_minor, 4) for i in range(n_min + 1)]
    df = to_frame(data)
    xt, yt = tick_frames(y_major, y_minor)
    xs = alt.Scale(type="log", domain=[0.01, 10], nice=False)
    ys = alt.Scale(domain=ydom, nice=False, zero=False)

    if legend_names:
        leg = alt.Legend(title=None, values=legend_names, orient="none",
                         legendX=legend_xy[0], legendY=legend_xy[1],
                         symbolType="stroke", symbolSize=1800,
                         labelFont=SANS, labelFontSize=25, labelColor="black",
                         labelLimit=600, labelOffset=14, rowPadding=0,
                         padding=0)
    else:
        leg = None

    lines = alt.Chart(df).mark_line(strokeJoin="round", strokeCap="butt").encode(
        x=alt.X("period:Q", scale=xs, axis=None),
        y=alt.Y("value:Q", scale=ys, axis=None),
        color=alt.Color("series:N", scale=alt.Scale(domain=SERIES, range=COLORS), legend=leg),
        strokeDash=alt.StrokeDash("series:N", scale=alt.Scale(domain=SERIES, range=DASHES), legend=leg),
        strokeWidth=alt.StrokeWidth("series:N", scale=alt.Scale(type="ordinal", domain=SERIES, range=WIDTHS), legend=leg),
        order=alt.Order("k:Q"),
    )

    # inward ticks on all four sides: thin bars whose pixel extent comes from 'len'
    xtick = alt.Chart(xt).mark_bar(color="#000000", width=2, opacity=1).encode(
        x=alt.X("period:Q", scale=xs, axis=None),
        y=alt.Y("y0:Q", scale=None),
        y2=alt.Y2("y1:Q"),
    ).transform_calculate(
        y0=f"datum.side == 'bottom' ? {H} : 0",
        y1=f"datum.side == 'bottom' ? {H} - datum.len : datum.len",
    )
    ytick = alt.Chart(yt).mark_bar(color="#000000", height=2, opacity=1).encode(
        y=alt.Y("value:Q", scale=ys, axis=None),
        x=alt.X("x0:Q", scale=None),
        x2=alt.X2("x1:Q"),
    ).transform_calculate(
        x0=f"datum.side == 'left' ? 0 : {W}",
        x1=f"datum.side == 'left' ? datum.len : {W} - datum.len",
    )

    ghost = alt.Chart(pd.DataFrame({"period": X_MAJOR})).mark_point(opacity=0, size=1)
    if xlabels:
        xb = label_axis("bottom", X_MAJOR, 28, title="Period (sec)", titleFont=MONO,
                        titleFontSize=24, titleFontWeight="normal", titleColor="#222",
                        titlePadding=2)
    else:
        xb = label_axis("bottom", X_MAJOR, 22, labels=False, title=None)
    xaxis_layer = ghost.encode(x=alt.X("period:Q", scale=xs, axis=xb))

    yghost = alt.Chart(pd.DataFrame({"value": y_major})).mark_point(opacity=0, size=1)
    if ytitle:
        ya = label_axis("left", y_major, ylab_pad, title=ytitle, titleFont=MONO,
                        titleFontSize=ytitle_size, titleFontWeight="normal",
                        titleColor="#222", titlePadding=ytitle_pad)
    else:
        ya = label_axis("left", y_major, ylab_pad, title=None)
    yaxis_layer = yghost.encode(y=alt.Y("value:Q", scale=ys, axis=ya))

    ch = alt.layer(lines, xtick, ytick, xaxis_layer, yaxis_layer).resolve_axis(
        x="independent", y="independent")
    props = dict(width=W, height=H)
    if title:
        props["title"] = alt.TitleParams(text=title, font=SANS, fontSize=25,
                                         fontWeight="normal", color="black",
                                         anchor="middle", offset=-7, dx=title_dx)
    return ch.properties(**props)


p1 = panel(SA_EQ, [0, 1.5], 0.5, 0.1, xlabels=False, ytitle="Sa (g)", ytitle_size=25,
           ytitle_pad=10, ylab_pad=14,
           legend_names=["DEEPSOIL", "D-MOD_2", "OPENSEES", "SUMDES"],
           legend_xy=(234, 14), title="Mw = 4.2, 09/09/2001 (PHA\u02b3 = 0.19 g)")
p2 = panel(SA_SYN, [0, 3], 0.5, 0.1, xlabels=False, ytitle=None, ytitle_size=0,
           ytitle_pad=0, ylab_pad=3, legend_names=["TESS", "SHAKE2004", "Input Motion"],
           legend_xy=(238, 9), title="Synthetic Motion (PHA\u02b3 = 0.65 g)", title_dx=-16)
p3 = panel(AF_EQ, [0, 2.5], 0.5, 0.1, xlabels=False, ytitle="AF", ytitle_size=30,
           ytitle_pad=5, ylab_pad=14)
p4 = panel(AF_SYN, [0, 2.5], 0.5, 0.1, xlabels=False, ytitle=None, ytitle_size=0,
           ytitle_pad=0, ylab_pad=3, legend_names=["Choi and Stewart (2005)"],
           legend_xy=(18, 14))
p5 = panel(SS_EQ, [0, 4], 1, 0.2, xlabels=True, ytitle="SpectralShape", ytitle_size=27,
           ytitle_pad=18, ylab_pad=14)
p6 = panel(SS_SYN, [0, 4], 1, 0.2, xlabels=True, ytitle=None, ytitle_size=0,
           ytitle_pad=0, ylab_pad=3, legend_names=["Campbell and Bozorgnia (2007)"],
           legend_xy=(22, 7))

chart = alt.concat(p1, p2, p3, p4, p5, p6, columns=2,
                   spacing={"row": 30, "column": 51}, bounds="flush").resolve_scale(
    color="independent", strokeDash="independent", strokeWidth="independent"
).properties(
    padding={"left": 6, "top": 9, "right": 2, "bottom": 2}, background="white"
).configure_view(stroke="black", strokeWidth=2)

chart.save("out.html", embed_options={"renderer": "svg", "actions": False})
